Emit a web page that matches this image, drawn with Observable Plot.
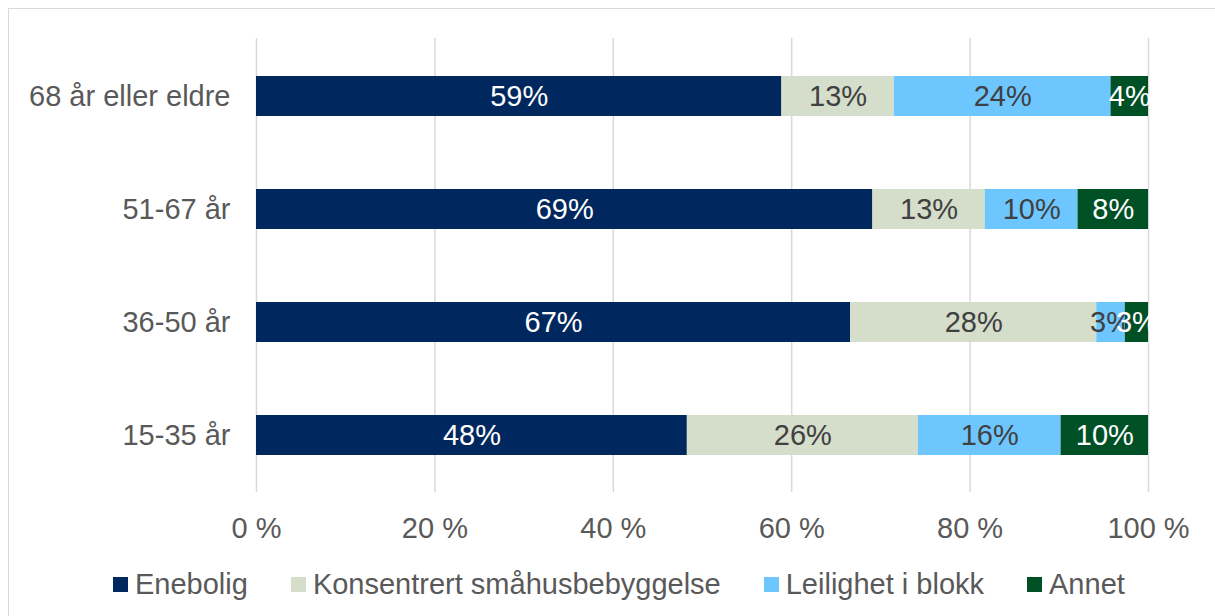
<!DOCTYPE html>
<html>
<head>
<meta charset="utf-8">
<script src="https://cdn.jsdelivr.net/npm/d3@7"></script>
<script src="https://cdn.jsdelivr.net/npm/@observablehq/plot@0.6"></script>
<style>
  html, body { margin: 0; padding: 0; background: #fff; overflow: hidden; }
  body { width: 1215px; height: 616px; position: relative; font-family: "Liberation Sans", Arial, sans-serif; }
  #frame { position: absolute; left: 8px; top: 8px; width: 1230px; height: 630px;
           border-left: 1.5px solid #d9d9d9; border-top: 1.5px solid #d9d9d9; pointer-events: none; }
  #chart { position: absolute; left: 0; top: 0; }
  #legend { position: absolute; left: 113px; top: 566px; height: 36px; display: flex; align-items: center;
            font-size: 29px; color: #595959; white-space: nowrap; }
  .item { display: flex; align-items: center; margin-right: 43px; }
  .sw { width: 15px; height: 15px; margin-right: 7px; display: inline-block; }
</style>
</head>
<body>
<div id="chart"></div>
<div id="legend"></div>
<div id="frame"></div>
<script>
const groups = ["68 år eller eldre", "51-67 år", "36-50 år", "15-35 år"];
const types = ["Enebolig", "Konsentrert småhusbebyggelse", "Leilighet i blokk", "Annet"];
const enebolig = [58.9, 69.1, 66.6, 48.3];
const konsentrert = [12.6, 12.6, 27.6, 25.9];
const leilighet = [24.3, 10.4, 3.2, 16.0];
const annet = [4.2, 7.9, 2.6, 9.8];
const colors = ["#00285E", "#D5DDCB", "#6EC6FF", "#005026"];
const labelColors = ["white", "#404040", "#404040", "white"];
const xTicks = [0, 20, 40, 60, 80, 100];

const series = [enebolig, konsentrert, leilighet, annet];
const rows = groups.flatMap((g, i) => {
  let acc = 0;
  return types.map((t, j) => {
    const v = series[j][i];
    const r = {group: g, type: t, value: v, start: acc, end: acc + v, mid: acc + v / 2, label: Math.round(v) + "%", lc: labelColors[j]};
    acc += v;
    return r;
  });
});

const font = "Liberation Sans, Arial, sans-serif";

const plot = Plot.plot({
  width: 1215,
  height: 555,
  marginLeft: 256,
  marginRight: 67,
  marginTop: 38,
  marginBottom: 63,
  style: {background: "transparent", fontFamily: font, fontSize: "29px", color: "#595959", overflow: "visible"},
  x: {domain: [0, 100], ticks: xTicks},
  y: {domain: groups, paddingInner: 0.648, paddingOuter: 0.324},
  color: {domain: types, range: colors},
  marks: [
    Plot.gridX(xTicks, {stroke: "#d9d9d9", strokeOpacity: 1, strokeWidth: 1.5}),
    Plot.axisX({ticks: xTicks, tickSize: 0, tickPadding: 25, tickFormat: d => d + " %", label: null, fontSize: 29, fill: "#595959"}),
    Plot.axisY({tickSize: 0, tickPadding: 26, label: null, fontSize: 29, fill: "#595959"}),
    Plot.barX(rows, {x1: "start", x2: "end", y: "group", fill: "type"}),
    Plot.text(rows.filter(d => d.lc !== "white"), {x: "mid", y: "group", text: "label", fill: "#404040", fontSize: 29}),
    Plot.text(rows.filter(d => d.lc === "white"), {x: "mid", y: "group", text: "label", fill: "white", fontSize: 29})
  ]
});
document.getElementById("chart").appendChild(plot);

const legend = document.getElementById("legend");
types.forEach((t, j) => {
  const item = document.createElement("div");
  item.className = "item";
  const sw = document.createElement("span");
  sw.className = "sw";
  sw.style.background = colors[j];
  const tx = document.createElement("span");
  tx.textContent = t;
  item.appendChild(sw);
  item.appendChild(tx);
  legend.appendChild(item);
});
</script>
</body>
</html>
